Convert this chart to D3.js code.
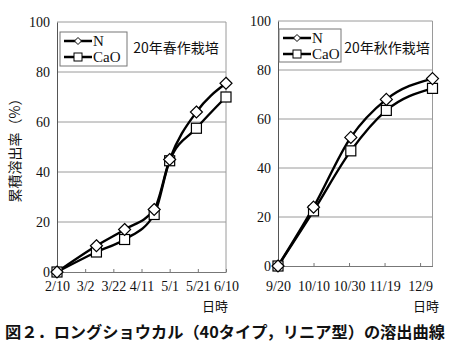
<!DOCTYPE html>
<html><head><meta charset="utf-8">
<script src="https://cdn.jsdelivr.net/npm/d3@7"></script>
<style>
html,body{margin:0;padding:0;background:#fff;}
svg{display:block;}
</style>
</head><body>
<svg id="c" width="451" height="347"></svg>
<script>
// ---- data ----
const yTicks = [0, 20, 40, 60, 80, 100];
const seriesNames = ["N", "CaO"];

const springDays = [0, 28, 48, 69, 80, 99, 120];
const springN = [0, 10.5, 17, 25, 45, 64, 75.5];
const springCaO = [0, 8, 13, 23, 44.5, 57.5, 70];
const springTickDays = [0, 20, 40, 60, 80, 100, 120];
const springTickLabels = ["2/10", "3/2", "3/22", "4/11", "5/1", "5/21", "6/10"];
const springTitle = "20年春作栽培";

const autumnDays = [0, 20, 41, 61, 87];
const autumnN = [0, 24, 52.5, 68, 76.5];
const autumnCaO = [0, 22.5, 47, 63.5, 72.5];
const autumnTickDays = [0, 20, 40, 60, 80];
const autumnTickLabels = ["9/20", "10/10", "10/30", "11/19", "12/9"];
const autumnTitle = "20年秋作栽培";

const yLabel = "累積溶出率（%）";
const xLabel = "日時";
const caption = "図２．ロングショウカル（40タイプ，リニア型）の溶出曲線";

// ---- drawing ----
const svg = d3.select("#c");
const serif = "'Liberation Serif', 'Times New Roman', serif";
const jp = "'Noto Sans CJK JP', sans-serif";

function panel(cfg) {
  const x = d3.scaleLinear().domain(cfg.xDomain).range([cfg.left, cfg.right]);
  const y = d3.scaleLinear().domain([0, 100]).range([cfg.bottom, cfg.top]);
  const g = svg.append("g");

  // gridlines
  g.selectAll("line.grid").data(yTicks.filter(d => d > 0)).join("line")
    .attr("x1", cfg.left).attr("x2", cfg.right)
    .attr("y1", d => y(d)).attr("y2", d => y(d))
    .attr("stroke", "#9a9a9a").attr("stroke-width", 1);
  // right border
  g.append("line").attr("x1", cfg.right).attr("x2", cfg.right)
    .attr("y1", cfg.top).attr("y2", cfg.bottom).attr("stroke", "#9a9a9a");

  // y axis
  const ya = d3.axisLeft(y).tickValues(yTicks).tickSize(0).tickPadding(7);
  const yg = g.append("g").attr("transform", `translate(${cfg.left},0)`).call(ya);
  yg.select(".domain").attr("stroke", "#555");
  yg.selectAll("text").attr("font-family", serif).attr("font-size", 14).attr("fill", "#111");

  // x axis
  const xa = d3.axisBottom(x).tickValues(cfg.tickDays).tickSizeInner(-3).tickSizeOuter(0)
    .tickPadding(9).tickFormat((d, i) => cfg.tickLabels[i]);
  const xg = g.append("g").attr("transform", `translate(0,${cfg.bottom})`).call(xa);
  xg.select(".domain").attr("stroke", "#777");
  xg.selectAll(".tick line").attr("stroke", "#777");
  xg.selectAll("text").attr("font-family", serif).attr("font-size", 14).attr("fill", "#111")
    .attr("dy", cfg.labelDy);

  // lines
  const line = d3.line().x(d => x(d[0])).y(d => y(d[1])).curve(d3.curveMonotoneX);
  const sets = [cfg.n, cfg.cao];
  sets.forEach(vals => {
    const pts = cfg.days.map((d, i) => [d, vals[i]]);
    g.append("path").datum(pts).attr("d", line)
      .attr("fill", "none").attr("stroke", "#000").attr("stroke-width", 2.4);
  });
  // markers
  const sq = cfg.days.map((d, i) => [d, cfg.cao[i]]);
  g.selectAll("rect.m").data(sq).join("rect")
    .attr("x", d => x(d[0]) - 5).attr("y", d => y(d[1]) - 5)
    .attr("width", 10).attr("height", 10)
    .attr("fill", "#fff").attr("stroke", "#000").attr("stroke-width", 1.2);
  const dm = cfg.days.map((d, i) => [d, cfg.n[i]]);
  g.selectAll("path.m").data(dm).join("path")
    .attr("d", d => `M${x(d[0])},${y(d[1]) - 6}L${x(d[0]) + 6},${y(d[1])}L${x(d[0])},${y(d[1]) + 6}L${x(d[0]) - 6},${y(d[1])}Z`)
    .attr("fill", "#fff").attr("stroke", "#000").attr("stroke-width", 1.2);

  // legend
  const L = cfg.legend;
  g.append("rect").attr("x", L.x).attr("y", L.y).attr("width", L.w).attr("height", L.h)
    .attr("fill", "#fff").attr("stroke", "#777");
  seriesNames.forEach((name, i) => {
    const ly = L.y + 9 + i * 16;
    g.append("line").attr("x1", L.x + 4).attr("x2", L.x + 32).attr("y1", ly).attr("y2", ly)
      .attr("stroke", "#000").attr("stroke-width", 2.5);
    if (i === 0) {
      const cx = L.x + 18;
      g.append("path").attr("d", `M${cx},${ly - 3.5}L${cx + 3.5},${ly}L${cx},${ly + 3.5}L${cx - 3.5},${ly}Z`)
        .attr("fill", "#fff").attr("stroke", "#000");
    } else {
      const cx = L.x + 18;
      g.append("rect").attr("x", cx - 4).attr("y", ly - 4).attr("width", 8).attr("height", 8)
        .attr("fill", "#fff").attr("stroke", "#000");
    }
    g.append("text").attr("x", L.x + 33).attr("y", ly + 5)
      .attr("font-family", serif).attr("font-size", 15).attr("fill", "#111").text(name);
  });

  // title
  g.append("text").attr("x", cfg.titleX).attr("y", cfg.titleY).attr("text-anchor", "middle")
    .attr("font-family", jp).attr("font-size", 14).attr("fill", "#111").text(cfg.title);

  // x label
  g.append("text").attr("x", cfg.xLabelX).attr("y", 311).attr("text-anchor", "middle")
    .attr("font-family", jp).attr("font-size", 13).attr("fill", "#111").text(xLabel);
}

panel({
  left: 57, right: 226, top: 22, bottom: 272, xDomain: [0, 120],
  days: springDays, n: springN, cao: springCaO,
  tickDays: springTickDays, tickLabels: springTickLabels, labelDy: "0.71em",
  legend: {x: 60, y: 32, w: 67, h: 34},
  title: springTitle, titleX: 176, titleY: 53, xLabelX: 215
});
panel({
  left: 278, right: 432.5, top: 21, bottom: 266, xDomain: [0, 87],
  days: autumnDays, n: autumnN, cao: autumnCaO,
  tickDays: autumnTickDays, tickLabels: autumnTickLabels, labelDy: "1.15em",
  legend: {x: 279, y: 29, w: 62, h: 33},
  title: autumnTitle, titleX: 387, titleY: 53, xLabelX: 426
});

// y label
svg.append("text").attr("transform", "translate(20,147) rotate(-90)")
  .attr("text-anchor", "middle").attr("font-family", jp).attr("font-size", 14).attr("fill", "#111")
  .text(yLabel);

// caption
svg.append("text").attr("x", 5).attr("y", 338)
  .attr("font-family", jp).attr("font-size", 16).attr("font-weight", "bold").attr("fill", "#111")
  .attr("textLength", 440).attr("lengthAdjust", "spacingAndGlyphs")
  .text(caption);
</script>
</body></html>
